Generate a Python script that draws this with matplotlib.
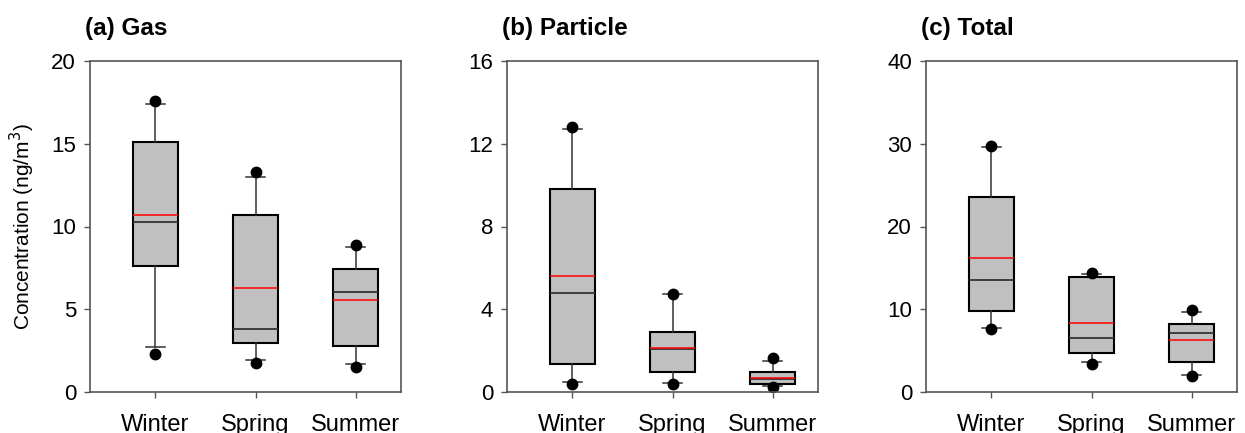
import matplotlib.pyplot as plt

plt.rcParams['font.family'] = ['Liberation Sans', 'DejaVu Sans']

seasons = ["Winter", "Spring", "Summer"]
titles = ["(a) Gas", "(b) Particle", "(c) Total"]
ymax = [20, 16, 40]
yticks = [[0, 5, 10, 15, 20], [0, 4, 8, 12, 16], [0, 10, 20, 30, 40]]

# per panel, per season: 5th pct, 10th, 25th, median, 75th, 90th, 95th, mean
gas_p5 = [2.3, 1.73, 1.49]
gas_p10 = [2.7, 1.93, 1.69]
gas_q1 = [7.59, 2.98, 2.80]
gas_med = [10.25, 3.83, 6.02]
gas_q3 = [15.12, 10.67, 7.41]
gas_p90 = [17.4, 12.97, 8.74]
gas_p95 = [17.56, 13.27, 8.86]
gas_mean = [10.67, 6.27, 5.56]

par_p5 = [0.39, 0.40, 0.26]
par_p10 = [0.47, 0.42, 0.29]
par_q1 = [1.35, 0.98, 0.39]
par_med = [4.77, 2.06, 0.63]
par_q3 = [9.80, 2.90, 0.95]
par_p90 = [12.73, 4.73, 1.50]
par_p95 = [12.79, 4.75, 1.64]
par_mean = [5.59, 2.11, 0.69]

tot_p5 = [7.57, 3.34, 1.89]
tot_p10 = [7.69, 3.58, 2.09]
tot_q1 = [9.75, 4.67, 3.58]
tot_med = [13.49, 6.53, 7.09]
tot_q3 = [23.6, 13.94, 8.18]
tot_p90 = [29.65, 14.26, 9.63]
tot_p95 = [29.73, 14.34, 9.87]
tot_mean = [16.23, 8.38, 6.24]

panels = [
    (gas_p5, gas_p10, gas_q1, gas_med, gas_q3, gas_p90, gas_p95, gas_mean),
    (par_p5, par_p10, par_q1, par_med, par_q3, par_p90, par_p95, par_mean),
    (tot_p5, tot_p10, tot_q1, tot_med, tot_q3, tot_p90, tot_p95, tot_mean),
]

fig = plt.figure(figsize=(12.45, 4.33), dpi=100)
lefts = [90, 507, 926]
spine_col = "#555555"

for k, (p5, p10, q1, med, q3, p90, p95, mean) in enumerate(panels):
    ax = fig.add_axes([lefts[k] / 1245, 41 / 433, 311 / 1245, 331 / 433])
    stats = []
    for i in range(3):
        stats.append(dict(whislo=p10[i], q1=q1[i], med=med[i], q3=q3[i],
                          whishi=p90[i], fliers=[p5[i], p95[i]], mean=mean[i]))
    ax.bxp(stats, positions=[1, 2, 3], widths=0.45, patch_artist=True,
           showmeans=True, meanline=True, capwidths=0.19,
           boxprops=dict(facecolor="#c0c0c0", edgecolor="black", linewidth=1.5),
           medianprops=dict(color="#333333", linewidth=1.3),
           meanprops=dict(color="red", linestyle="-", linewidth=1.1),
           whiskerprops=dict(color="#333333", linewidth=1.1),
           capprops=dict(color="#333333", linewidth=1.1),
           flierprops=dict(marker="o", markerfacecolor="black",
                           markeredgecolor="black", markersize=7.5))
    ax.set_xlim(0.35, 3.45)
    ax.set_ylim(0, ymax[k])
    ax.set_yticks(yticks[k])
    ax.set_xticks([1, 2, 3])
    ax.set_xticklabels(seasons)
    ax.tick_params(axis="both", direction="out", length=4, width=1,
                   color=spine_col)
    ax.tick_params(axis="y", labelsize=16, pad=6)
    ax.tick_params(axis="x", labelsize=17, pad=12)
    for s in ax.spines.values():
        s.set_color(spine_col)
        s.set_linewidth(1.2)
    fig.text((lefts[k] - 5) / 1245, 1 - 29 / 433, titles[k], fontsize=17.5,
             fontweight="bold", ha="left", va="center")
    if k == 0:
        ax.set_ylabel("Concentration (ng/m$^3$)", fontsize=15, labelpad=10)

fig.savefig("out.png", dpi=100)
